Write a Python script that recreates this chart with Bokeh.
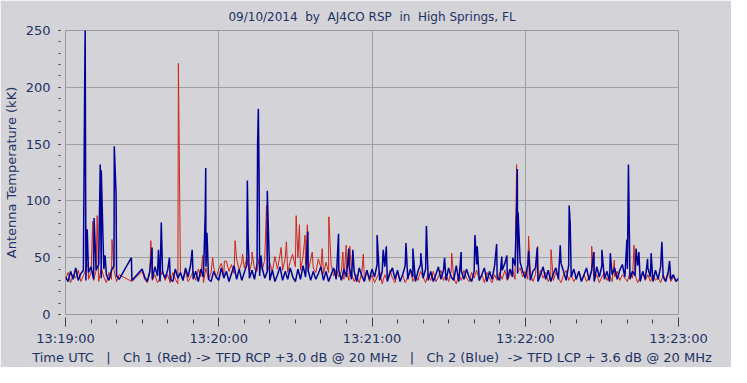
from bokeh.plotting import figure
from bokeh.models import FixedTicker, Range1d
from bokeh.embed import file_html
from bokeh.resources import INLINE

# ---------------- data ----------------
# seconds after 13:19:00, one baseline sample per second (None = no data)
blue_base = [
    33,29,38,31,41,30,36,39,30,37,
    42,31,39,44,32,40,35,30,39,43,
    34,31,None,None,None,None,30,None,None,None,
    40,33,29,38,31,42,34,29,37,32,
    39,31,29,40,32,37,30,41,33,44,
    31,38,29,40,33,42,31,29,38,33,
    30,41,32,38,29,36,43,31,40,30,
    37,44,32,39,31,45,34,41,32,38,
    30,39,29,35,42,30,38,31,41,33,
    29,40,31,43,33,39,30,38,31,36,
    42,30,38,29,35,41,31,39,30,40,
    33,43,31,38,29,41,34,29,39,31,
    40,33,44,30,38,42,29,36,41,31,
    39,29,35,43,31,40,33,29,38,44,
    32,40,30,38,29,35,42,31,39,30,
    41,33,30,43,29,38,31,40,33,29,
    38,44,30,35,41,29,38,31,43,33,
    30,39,45,31,40,33,43,36,46,38,
    32,44,30,38,41,29,35,42,31,39,
    29,36,41,31,45,38,30,43,33,40,
    31,38,29,35,41,30,39,29,42,33,
    43,31,38,29,35,41,31,39,44,33,
    40,31,38,34,43,29,38,31,41,33,
    29,39,31,42,33,29,38,31,35,29,
    32,
]
red_base = [
    31,37,28,35,32,39,29,34,40,31,
    37,30,39,29,41,33,28,37,31,39,
    29,35,None,None,None,None,29,None,None,None,
    38,31,28,36,30,35,28,32,39,30,
    35,28,37,31,27,36,30,38,29,33,
    38,30,40,33,28,41,31,37,42,32,
    40,45,35,47,38,44,36,49,39,46,
    41,50,37,47,40,38,52,39,48,37,
    45,38,51,40,53,39,49,37,47,52,
    42,50,39,51,44,38,48,41,37,49,
    41,36,46,37,44,34,40,33,38,31,
    37,30,36,29,35,28,37,31,39,29,
    35,28,33,38,27,35,30,39,32,28,
    37,30,35,28,33,39,29,35,30,38,
    33,28,36,30,38,29,33,39,30,35,
    29,38,32,27,35,30,39,32,29,37,
    32,39,30,35,28,37,32,28,35,30,
    37,31,39,30,35,40,31,37,41,33,
    38,31,37,29,35,30,39,32,37,29,
    35,30,37,32,28,35,39,30,35,29,
    33,38,30,35,29,33,39,30,35,28,
    33,37,30,35,29,33,38,30,35,32,
    29,37,32,35,28,33,37,30,35,29,
    35,30,33,28,35,30,37,29,33,30,
    30,
]

# bursts: (seconds, antenna temperature kK)
blue_spike_t = [7.5, 7.7, 8.5, 11.2, 13.6, 14.0, 15.5, 19.1, 19.8, 25.8, 33.9, 36.4,
                37.5, 40.7, 49.6, 54.7, 54.9, 55.4, 71.2, 71.5, 75.2, 75.5, 75.8,
                76.5, 79.0, 94.9, 106.9, 110.9, 112.5, 122.0, 124.4, 125.6, 133.3,
                136.0, 139.1, 141.3, 148.4, 154.9, 160.3, 161.2, 168.8, 170.8, 172.8,
                175.1, 176.7, 176.9, 177.2, 181.3, 184.7, 193.7, 197.2, 197.6, 206.9,
                210.0, 213.3, 219.8, 220.4, 223.4, 224.5, 227.9, 229.3, 233.5, 236.5]
blue_spike_v = [200, 252, 75, 85, 132, 127, 52, 148, 106, 50, 59, 57,
                81, 50, 57, 88, 129, 72, 118, 68, 150, 181, 120,
                52, 109, 73, 71, 58, 57, 70, 57, 60, 63,
                58, 54, 78, 50, 55, 70, 60, 62, 51, 52,
                50, 100, 128, 90, 56, 59, 61, 96, 80, 55,
                57, 54, 66, 132, 58, 55, 49, 54, 64, 47]
red_spike_t = [8.9, 10.7, 12.4, 18.2, 33.4, 44.2, 53.7, 57.6, 62.2, 66.4, 69.3, 73.0,
               78.7, 84.4, 86.5, 88.9, 90.3, 91.6, 93.8, 94.7, 96.6, 100.5, 103.1,
               108.6, 109.9, 111.3, 116.6, 151.2, 176.6, 181.3, 184.9, 190.1, 206.0,
               214.9, 222.6]
red_spike_v = [45, 82, 87, 66, 65, 221, 52, 50, 47, 65, 53, 55,
               96, 59, 64, 53, 87, 79, 70, 79, 55, 58, 86,
               55, 61, 60, 53, 54, 132, 69, 60, 57, 60,
               48, 61]

x_tick_values = [0, 60, 120, 180, 240]
x_tick_labels = ["13:19:00", "13:20:00", "13:21:00", "13:22:00", "13:23:00"]
y_tick_values = [0, 50, 100, 150, 200, 250]


def merge(base, st, sv):
    pts = [(float(i), v) for i, v in enumerate(base) if v is not None]
    pts += list(zip(st, sv))
    pts.sort(key=lambda p: p[0])
    return [p[0] for p in pts], [p[1] for p in pts]


bx, by = merge(blue_base, blue_spike_t, blue_spike_v)
rx, ry = merge(red_base, red_spike_t, red_spike_v)

# ---------------- figure ----------------
BG = "#d4d4d8"
TXT = "#1e3264"
FONT = "DejaVu Sans"

p = figure(width=731, height=367, output_backend="svg", toolbar_location=None,
           x_range=Range1d(0, 240), y_range=Range1d(0, 250),
           min_border_left=57, min_border_right=53, min_border_top=26, min_border_bottom=50,
           title="09/10/2014\u00a0\u00a0by\u00a0\u00a0AJ4CO RSP\u00a0\u00a0in\u00a0\u00a0High Springs, FL")

p.background_fill_color = BG
p.border_fill_color = BG
p.outline_line_color = "#9a9a9a"

p.title.align = "center"
p.title.text_color = TXT
p.title.text_font = FONT
p.title.text_font_size = "12px"
p.title.text_font_style = "normal"
p.title.standoff = 14

p.line(rx, ry, line_color="#cc2418", line_width=1)
p.line(bx, by, line_color="#000096", line_width=1.5)

p.xgrid.grid_line_color = "#a0a0a0"
p.ygrid.grid_line_color = "#a0a0a0"

xa = p.xaxis[0]
xa.ticker = FixedTicker(ticks=x_tick_values,
                        minor_ticks=[t for t in range(0, 241, 10)])
xa.major_label_overrides = {v: l for v, l in zip(x_tick_values, x_tick_labels)}
xa.axis_line_color = None
xa.major_tick_in = -3
xa.major_tick_out = 12
xa.minor_tick_in = -5
xa.minor_tick_out = 9
xa.major_tick_line_color = "#404040"
xa.minor_tick_line_color = "#404040"
xa.major_label_text_font = FONT
xa.major_label_text_font_size = "13px"
xa.major_label_text_color = TXT
xa.major_label_standoff = 4
xa.axis_label = ("Time UTC\u00a0\u00a0\u00a0|\u00a0\u00a0\u00a0Ch 1 (Red) -> TFD RCP +3.0 dB @ 20 MHz"
                 "\u00a0\u00a0\u00a0|\u00a0\u00a0\u00a0Ch 2 (Blue)\u00a0\u00a0-> TFD LCP + 3.6 dB @ 20 MHz")
xa.axis_label_text_font = FONT
xa.axis_label_text_font_size = "13px"
xa.axis_label_text_font_style = "normal"
xa.axis_label_text_color = TXT
xa.axis_label_standoff = 1

ya = p.yaxis[0]
ya.ticker = FixedTicker(ticks=y_tick_values, minor_ticks=list(range(0, 251, 10)))
ya.axis_line_color = None
ya.major_tick_in = -5
ya.major_tick_out = 7
ya.minor_tick_in = -5
ya.minor_tick_out = 7
ya.major_tick_line_color = "#404040"
ya.minor_tick_line_color = "#404040"
ya.major_label_text_font = FONT
ya.major_label_text_font_size = "13px"
ya.major_label_text_color = TXT
ya.major_label_standoff = 8
ya.axis_label = "Antenna Temperature (kK)"
ya.axis_label_text_font = FONT
ya.axis_label_text_font_size = "13px"
ya.axis_label_text_font_style = "normal"
ya.axis_label_text_color = TXT
ya.axis_label_standoff = 4

open("out.html", "w").write(file_html(p, INLINE))
